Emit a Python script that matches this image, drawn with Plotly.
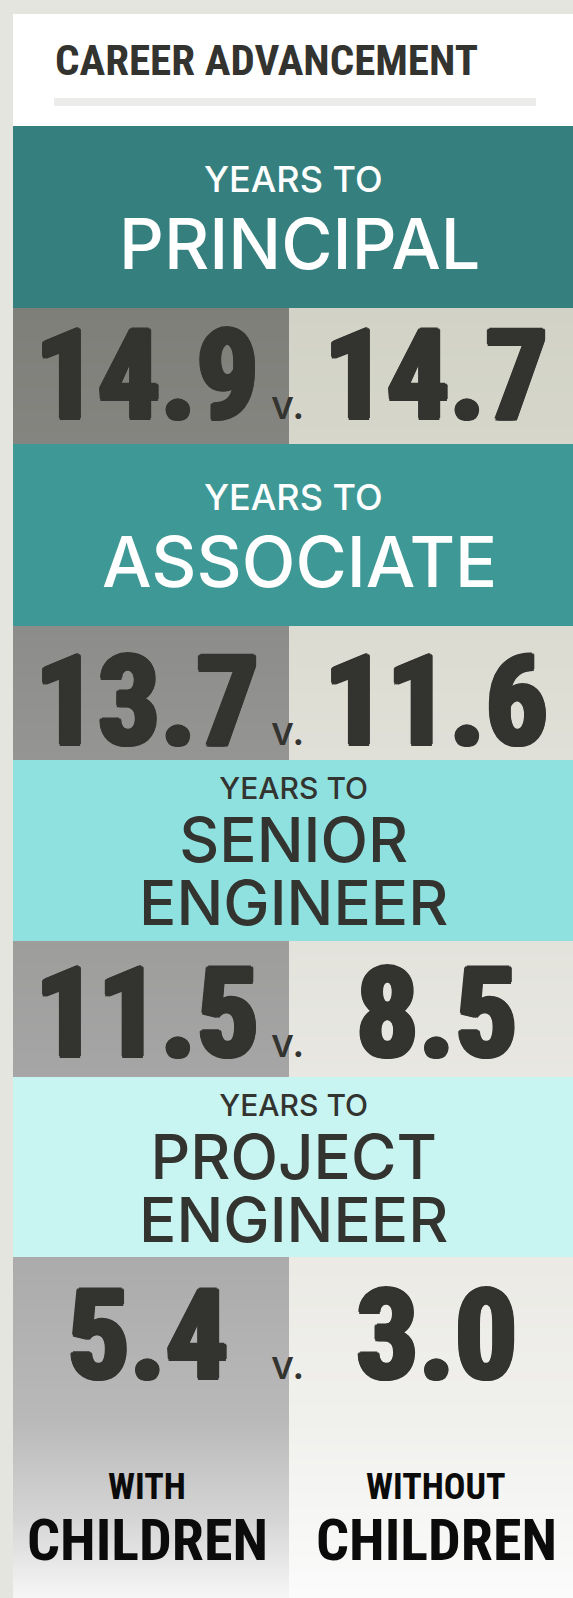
import plotly.graph_objects as go
import numpy as np

# ---------------- data ----------------
title = "CAREER ADVANCEMENT"
prefix = "YEARS TO"
roles = [["PRINCIPAL"], ["ASSOCIATE"], ["SENIOR", "ENGINEER"], ["PROJECT", "ENGINEER"]]
with_children = [14.9, 13.7, 11.5, 5.4]
without_children = [14.7, 11.6, 8.5, 3.0]
group_small = ["WITH", "WITHOUT"]
group_big = ["CHILDREN", "CHILDREN"]
separator = "v."

# ---------------- layout constants ----------------
W, H = 573, 1598
LEFT, TOP, SPLIT = 13, 14, 289
header_top = [126, 444, 760, 1077]
header_bot = [308, 626, 941, 1257]
header_fill = ["#357f7e", "#3e9896", "#8fe1df", "#c8f4f2"]
header_txt = ["#ffffff", "#ffffff", "#333330", "#333330"]
num_center = [375, 701, 1013, 1335]
col_center = [147, 436]
DARK = "#333330"

HEAD_FONT = "Inter, Lato, 'Open Sans', sans-serif"
COND_FONT = "'Roboto Condensed', 'DejaVu Sans Condensed', sans-serif"
NUM_FONT = COND_FONT

fig = go.Figure()

# gradient backgrounds for the two value columns
left_stops = [(308, "#7f7f7a"), (444, "#848480"), (626, "#8c8c8a"), (760, "#959594"),
              (941, "#9d9d9c"), (1077, "#a6a6a6"), (1257, "#ababab"), (1420, "#b9b9b9"),
              (1520, "#d5d5d5"), (1598, "#f6f6f6")]
right_stops = [(308, "#d2d3c6"), (444, "#d6d6cb"), (626, "#dbdbd1"), (760, "#e0e0d8"),
               (941, "#e3e3dc"), (1077, "#e8e7e2"), (1257, "#ebeae5"), (1420, "#f0f0ed"),
               (1598, "#fbfbfb")]
y0, y1 = 308, 1598
edges = np.arange(y0, y1 + 1, 2)
centers = (edges[:-1] + edges[1:]) / 2.0
for (xa, xb), stops in [((LEFT, SPLIT), left_stops), ((SPLIT, W), right_stops)]:
    cs = [[(yy - y0) / (y1 - y0), c] for yy, c in stops]
    fig.add_trace(go.Heatmap(
        x=[xa, xb], y=edges, z=centers.reshape(-1, 1),
        zmin=y0, zmax=y1, colorscale=cs, showscale=False, hoverinfo="skip"))

shapes = []
shapes.append(dict(type="rect", x0=0, x1=W, y0=0, y1=TOP, fillcolor="#e5e5df", line_width=0))
shapes.append(dict(type="rect", x0=0, x1=LEFT, y0=0, y1=H, fillcolor="#e5e5df", line_width=0))
shapes.append(dict(type="rect", x0=54, x1=536, y0=98, y1=106, fillcolor="#ececea", line_width=0))
for i in range(len(roles)):
    shapes.append(dict(type="rect", x0=LEFT, x1=W, y0=header_top[i], y1=header_bot[i],
                       fillcolor=header_fill[i], line_width=0, layer="above"))

ann = []
def txt(x, y, s, size, color, family, xanchor="center", weight=None, shadow=None, yanchor="middle"):
    f = dict(size=size, color=color, family=family)
    if weight:
        f["weight"] = weight
    if shadow:
        f["shadow"] = shadow
    ann.append(dict(x=x, y=y, text=s, showarrow=False, xref="x", yref="y",
                    xanchor=xanchor, yanchor=yanchor, font=f))

# title
txt(53, 60, title, 43, DARK, COND_FONT, xanchor="left", weight=700)

mid = (LEFT + W) / 2
for i, lines in enumerate(roles):
    t = header_top[i]
    if len(lines) == 1:
        txt(mid, t + 53, prefix, 36, header_txt[i], HEAD_FONT, weight=500)
        txt(mid + 6, t + 117, lines[0], 70, header_txt[i], HEAD_FONT, weight=500)
    else:
        block = (f"<span style='font-size:30px'>{prefix}</span><br>"
                 f"<span style='font-size:62px'>{lines[0]}</span><br>"
                 f"<span style='font-size:62px'>{lines[1]}</span>")
        txt(mid, t + 8, block, 48.5, header_txt[i], HEAD_FONT, weight=500, yanchor="top")

NUM_SIZE = 124
V_SIZE = 40
thick = ", ".join(f"{dx}px {dy}px 0 {DARK}" for dx, dy in
                  [(2.5, 0), (-2.5, 0), (0, 2), (0, -2), (1.8, 1.5), (-1.8, 1.5), (1.8, -1.5), (-1.8, -1.5)])
for i in range(len(roles)):
    yc = num_center[i]
    txt(col_center[0], yc, f"{with_children[i]:.1f}", NUM_SIZE, DARK, NUM_FONT, weight=700, shadow=thick)
    txt(col_center[1], yc, f"{without_children[i]:.1f}", NUM_SIZE, DARK, NUM_FONT, weight=700, shadow=thick)
    vy = yc + 0.355 * NUM_SIZE - 0.36 * V_SIZE
    txt(287, vy, separator, V_SIZE, DARK, HEAD_FONT, weight=500)

for j in range(2):
    txt(col_center[j], 1487, group_small[j], 36, "#0b0b0b", COND_FONT, weight=700)
    txt(col_center[j], 1540, group_big[j], 58, "#0b0b0b", COND_FONT, weight=700)

fig.update_layout(
    width=W, height=H, margin=dict(l=0, r=0, t=0, b=0),
    paper_bgcolor="#ffffff", plot_bgcolor="#ffffff",
    xaxis=dict(range=[0, W], visible=False, fixedrange=True),
    yaxis=dict(range=[H, 0], visible=False, fixedrange=True),
    shapes=shapes, annotations=ann, showlegend=False,
)
fig.write_html("out.html", config={"displayModeBar": False},
               post_script="document.body.style.margin='0px';document.body.style.overflow='hidden';")
